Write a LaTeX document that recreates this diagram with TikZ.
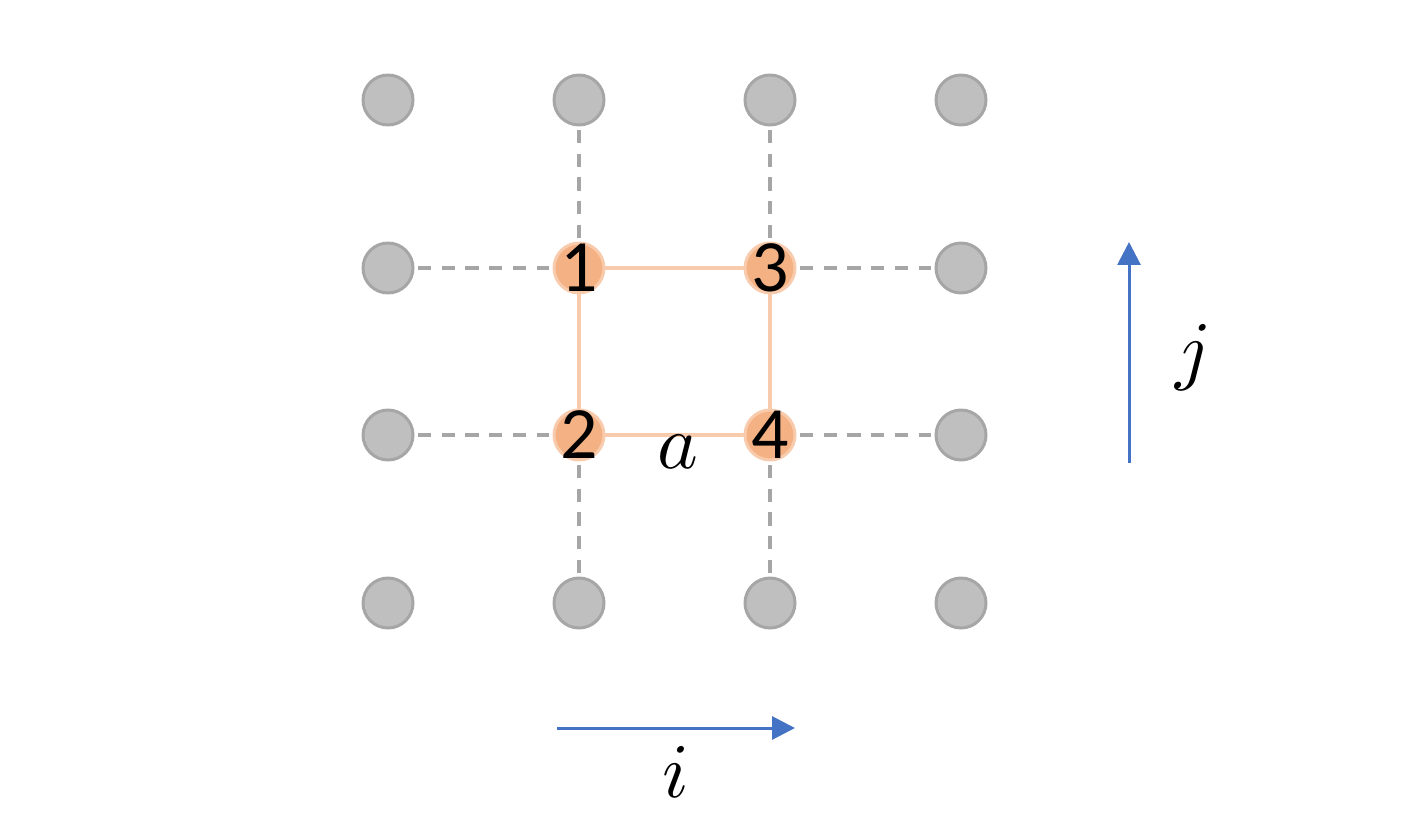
\documentclass[tikz,border=0pt]{standalone}
\usepackage{fontspec}
\usepackage{unicode-math}
\setmathfont{Latin Modern Math}
\newfontfamily\digitfont{Carlito}
\usepackage{tikz}
\usetikzlibrary{arrows.meta}

\definecolor{sitefill}{HTML}{BFBFBF}
\definecolor{siteline}{HTML}{A6A6A6}
\definecolor{cellfill}{HTML}{F4B183}
\definecolor{cellline}{HTML}{F8CBAD}
\definecolor{axisblue}{HTML}{4472C4}

\tikzset{
  site/.style={circle, fill=sitefill, draw=siteline, line width=1.7pt,
    minimum size=1.0cm, inner sep=0pt},
  cell/.style={circle, fill=cellfill, draw=cellline, line width=1.7pt,
    minimum size=1.0cm, inner sep=0pt,
    label={[font=\digitfont\fontsize{42}{42}\selectfont, inner sep=0pt]center:#1}},
  bond/.style={siteline, line width=2.2pt, dash pattern=on 7.5pt off 6pt,
    shorten <=2pt, shorten >=2pt},
  edge/.style={cellline, line width=1.9pt},
  axis/.style={axisblue, line width=1.7pt, -{Triangle[length=13pt,width=13pt]}},
  sym/.style={font=\fontsize{44}{44}\selectfont}
}

\begin{document}
\begin{tikzpicture}[x=0.02cm, y=-0.02cm]
        \useasboundingbox (0,0) rectangle (1415,824);

        % grey lattice sites
        \foreach \name/\px/\py in {
            s00/388/100, s10/579/100, s20/770/100, s30/961/100,
            s01/388/268, s31/961/268,
            s02/388/435, s32/961/435,
            s03/388/603, s13/579/603, s23/770/603, s33/961/603}
          \node[site] (\name) at (\px,\py) {};

        % the plaquette
        \node[cell=1] (c1) at (579,268) {};
        \node[cell=2] (c2) at (579,435) {};
        \node[cell=3] (c3) at (770,268) {};
        \node[cell=4] (c4) at (770,435) {};

        % bonds to the neighbours
        \draw[bond] (s01) -- (c1);
        \draw[bond] (c3) -- (s31);
        \draw[bond] (s02) -- (c2);
        \draw[bond] (c4) -- (s32);
        \draw[bond] (s10) -- (c1);
        \draw[bond] (s20) -- (c3);
        \draw[bond] (c2) -- (s13);
        \draw[bond] (c4) -- (s23);

        \draw[edge] (c1) -- (c3) -- (c4) -- (c2) -- (c1);
        \node[sym] (alab) at (678,452) {$a$};

        % axes
        \coordinate (i0) at (557,728);
        \coordinate (i1) at (795,728);
        \coordinate (j0) at (1129,463);
        \coordinate (j1) at (1129,242);
        \draw[axis] (i0) -- (i1);
        \draw[axis] (j0) -- (j1);
        \node[sym] (ilab) at (676,772) {$i$};
        \node[sym] (jlab) at (1192,358) {$j$};
\end{tikzpicture}
\end{document}
